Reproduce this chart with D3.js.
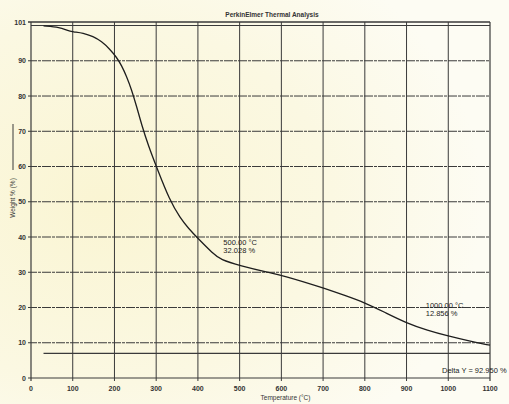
<!DOCTYPE html>
<html lang="en">
<head>
    <meta charset="utf-8">
    <title>PerkinElmer Thermal Analysis</title>
    <style>
        html, body { margin: 0; padding: 0; background: #fcfbef; }
        svg { display: block; font-family: "Liberation Sans", Arial, sans-serif; }
    </style>
</head>
<body>
    <div id="container"></div>

    <script src="https://cdn.jsdelivr.net/npm/d3@7"></script>
    <script>
        // TGA curve (temperature in °C, weight in %)
        const temps   = [30, 70, 86, 101, 125, 149, 169, 189, 205, 217, 229, 241, 253, 265, 281, 302, 332, 358, 377, 400, 437, 454, 500, 574, 600, 700, 750, 800, 850, 900, 950, 1000, 1050, 1100];
        const weights = [99.9, 99.5, 98.6, 98.2, 97.9, 96.9, 95.5, 93.3, 91.0, 88.7, 85.6, 81.8, 77.1, 71.9, 66.0, 59.5, 50.5, 45.3, 42.5, 39.6, 35.2, 33.6, 31.9, 29.8, 29.2, 25.6, 23.5, 21.4, 18.5, 15.6, 13.5, 11.9, 10.5, 9.3];

        // horizontal reference lines
        const startLine = [0, 1100];      // 100 % line under the frame top
        const startLevel = 100;
        const deltaLine = [30, 1100];     // end level used for delta Y
        const deltaLevel = 7;

        const xTicks = [0, 100, 200, 300, 400, 500, 600, 700, 800, 900, 1000, 1100];
        const yTicks = [0, 10, 20, 30, 40, 50, 60, 70, 80, 90, 101];

        const notes = [
            { t: 461, v: 37.8, lines: ["500.00 °C", "32.028 %"] },
            { t: 946, v: 19.9, lines: ["1000.00 °C", "12.856 %"] },
            { t: 985, v: 1.4, lines: ["Delta Y = 92.950 %"] }
        ];

        const width = 509;
        const height = 404;

        const svg = d3.select("#container").append("svg")
            .attr("width", width)
            .attr("height", height);

        // yellowish scan tint
        const defs = svg.append("defs");
        const grad = defs.append("radialGradient")
            .attr("id", "paper")
            .attr("cx", 0.2).attr("cy", 0.5).attr("r", 0.75);
        grad.append("stop").attr("offset", "0%").attr("stop-color", "#faf5d3");
        grad.append("stop").attr("offset", "60%").attr("stop-color", "#fbf8e2");
        grad.append("stop").attr("offset", "100%").attr("stop-color", "#fdfcf3");

        svg.append("rect")
            .attr("width", width)
            .attr("height", height)
            .attr("fill", "url(#paper)");

        const x = d3.scaleLinear().domain([0, 1100]).range([31, 490]);
        const y = d3.scaleLinear().domain([0, 101]).range([378, 22]);

        const ink = "#3a3a3a";

        // grid
        svg.append("g")
            .selectAll("line")
            .data(yTicks)
            .join("line")
            .attr("x1", x(0) - 3)
            .attr("x2", x(1100))
            .attr("y1", d => y(d))
            .attr("y2", d => y(d))
            .attr("stroke", ink)
            .attr("stroke-width", d => d === 101 ? 1.3 : 1)
            .attr("stroke-dasharray", d => d === 0 || d === 101 ? null : "9,1,3,1");

        svg.append("g")
            .selectAll("line")
            .data(xTicks)
            .join("line")
            .attr("x1", d => x(d))
            .attr("x2", d => x(d))
            .attr("y1", y(101))
            .attr("y2", y(0) + 3)
            .attr("stroke", ink)
            .attr("stroke-width", d => d === 0 || d === 1100 ? 1.2 : 1);

        // reference lines
        svg.append("line")
            .attr("x1", x(startLine[0])).attr("x2", x(startLine[1]))
            .attr("y1", y(startLevel)).attr("y2", y(startLevel))
            .attr("stroke", ink).attr("stroke-width", 1.2);

        svg.append("line")
            .attr("x1", x(deltaLine[0])).attr("x2", x(deltaLine[1]))
            .attr("y1", y(deltaLevel)).attr("y2", y(deltaLevel))
            .attr("stroke", ink).attr("stroke-width", 1.1);

        // tick labels
        svg.append("g")
            .selectAll("text")
            .data(yTicks)
            .join("text")
            .attr("x", x(0) - 5)
            .attr("y", d => y(d) + 2.5)
            .attr("text-anchor", "end")
            .attr("font-size", 7)
            .attr("font-weight", "bold")
            .attr("fill", "#333")
            .text(d => d);

        svg.append("g")
            .selectAll("text")
            .data(xTicks)
            .join("text")
            .attr("x", d => x(d))
            .attr("y", 391)
            .attr("text-anchor", "middle")
            .attr("font-size", 7)
            .attr("font-weight", "bold")
            .attr("fill", "#333")
            .text(d => d);

        // axis titles
        svg.append("text")
            .attr("x", x(610))
            .attr("y", 400)
            .attr("text-anchor", "middle")
            .attr("font-size", 6.5)
            .attr("fill", "#333")
            .text("Temperature (°C)");

        const yLab = svg.append("g")
            .attr("transform", "translate(15,198) rotate(-90)");
        yLab.append("text")
            .attr("x", 0)
            .attr("y", 0)
            .attr("text-anchor", "middle")
            .attr("font-size", 6.5)
            .attr("fill", "#333")
            .text("Weight % (%)");
        yLab.append("line")
            .attr("x1", 28).attr("x2", 74)
            .attr("y1", -2).attr("y2", -2)
            .attr("stroke", ink).attr("stroke-width", 1);

        svg.append("text")
            .attr("x", 272)
            .attr("y", 17)
            .attr("text-anchor", "middle")
            .attr("font-size", 6.5)
            .attr("font-weight", "bold")
            .attr("fill", "#333")
            .text("PerkinElmer Thermal Analysis");

        // curve
        const pts = temps.map((t, i) => [t, weights[i]]);
        svg.append("path")
            .datum(pts)
            .attr("fill", "none")
            .attr("stroke", "#1e1e1e")
            .attr("stroke-width", 1.3)
            .attr("d", d3.line()
                .x(d => x(d[0]))
                .y(d => y(d[1]))
                .curve(d3.curveBasis));

        // annotations
        notes.forEach(n => {
            const g = svg.append("text")
                .attr("x", x(n.t))
                .attr("y", y(n.v))
                .attr("font-size", 7.5)
                .attr("fill", "#222");
            n.lines.forEach((s, i) => {
                g.append("tspan")
                    .attr("x", x(n.t))
                    .attr("dy", i === 0 ? 0 : 8)
                    .text(s);
            });
        });
    </script>
</body>
</html>
